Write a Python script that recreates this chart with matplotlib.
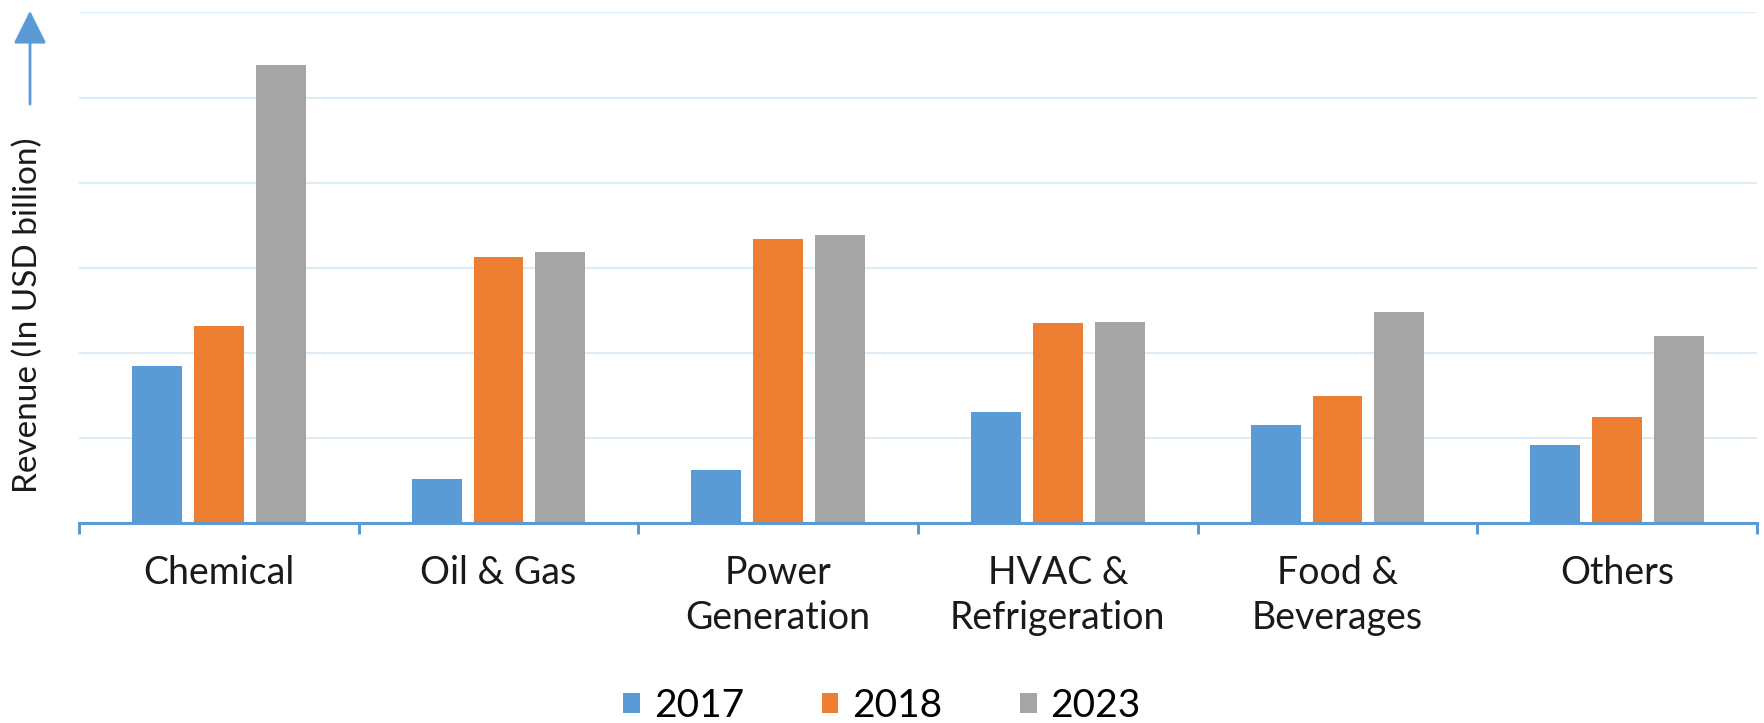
import matplotlib
matplotlib.use("Agg")
import matplotlib.pyplot as plt
from matplotlib.patches import FancyArrowPatch
import numpy as np

categories = ["Chemical", "Oil & Gas", "Power\nGeneration", "HVAC &\nRefrigeration", "Food &\nBeverages", "Others"]
years = ["2017", "2018", "2023"]
v2017 = [1.85, 0.52, 0.62, 1.31, 1.15, 0.92]
v2018 = [2.31, 3.12, 3.34, 2.35, 1.49, 1.25]
v2023 = [5.38, 3.18, 3.38, 2.36, 2.48, 2.20]
colors = ["#5B9BD5", "#ED7D31", "#A5A5A5"]

plt.rcParams['font.family'] = ['Lato', 'DejaVu Sans']

W, H = 1764, 723
fig = plt.figure(figsize=(W/100, H/100), dpi=100)
ax = fig.add_axes([79/W, 1-523/H, (1757-79)/W, (523-12.4)/H])

x = np.arange(len(categories))
bw = 0.178
off = 0.221
series = [v2017, v2018, v2023]
handles = []
for i, (vals, c, lab) in enumerate(zip(series, colors, years)):
    b = ax.bar(x + (i-1)*off, vals, width=bw, color=c, label=lab, zorder=3)
    handles.append(b)

ax.set_ylim(0, 6)
ax.set_xlim(-0.5, len(categories)-0.5)
ax.set_yticks(np.arange(0, 7, 1))
ax.yaxis.set_tick_params(length=0, labelleft=False)
ax.grid(axis='y', color='#DDEBF7', linewidth=1.5, zorder=0)
for s in ['left', 'right', 'top']:
    ax.spines[s].set_visible(False)
ax.spines['bottom'].set_color('#5B9BD5')
ax.spines['bottom'].set_linewidth(2.2)
ax.spines['bottom'].set_zorder(4)

ax.set_xticks(np.arange(-0.5, len(categories), 1.0))
ax.set_xticklabels([])
ax.tick_params(axis='x', which='major', direction='out', length=8, width=2.2, color='#5B9BD5')
ax.set_xticks(x, minor=True)
ax.set_xticklabels(categories, minor=True, fontsize=27, color='#1a1a1a', linespacing=1.32)
ax.tick_params(axis='x', which='minor', length=0, pad=23)
for t in ax.get_xticklabels(minor=True):
    t.set_verticalalignment('top')

# y label and arrow
fig.text(28/W, 1-315/H, "Revenue (In USD billion)", rotation=90, fontsize=24,
         ha='center', va='center', color='#1a1a1a')
arr = FancyArrowPatch((30/W, 1-107/H), (30/W, 1-8/H), transform=fig.transFigure,
                      arrowstyle='-|>,head_length=12,head_width=6', mutation_scale=1.7,
                      color='#5B9BD5', linewidth=2)
fig.patches.append(arr)

fig.legend(handles=handles, labels=years, loc='center', bbox_to_anchor=(0.5, 1-706/H),
           ncol=3, frameon=False, fontsize=28, handlelength=0.43, handleheight=0.43,
           columnspacing=2.0, handletextpad=0.35)

fig.savefig("out.png", dpi=100, facecolor='white')
